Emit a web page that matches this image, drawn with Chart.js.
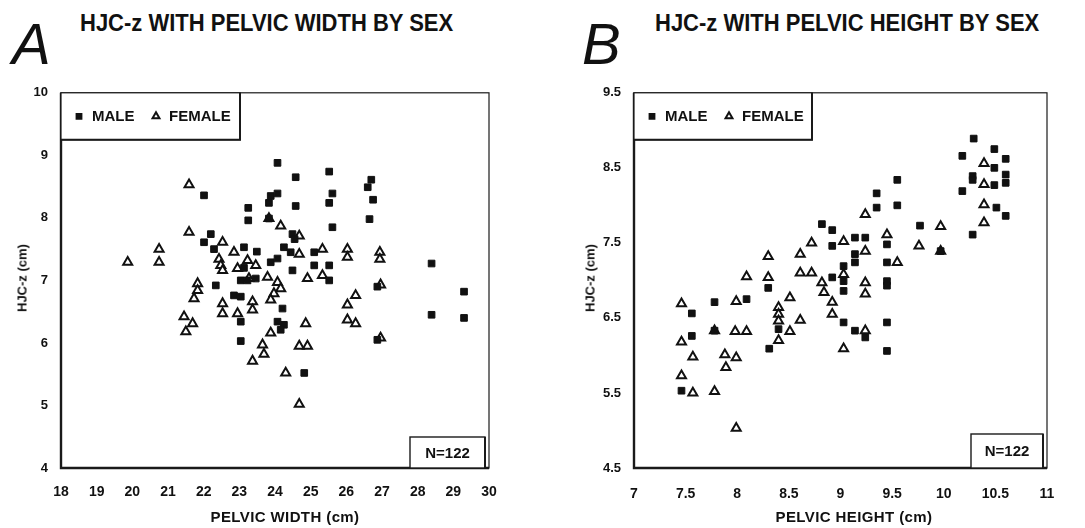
<!DOCTYPE html>
<html>
<head>
<meta charset="utf-8">
<script src="https://cdn.jsdelivr.net/npm/chart.js@4/dist/chart.umd.min.js"></script>
<style>
  body { margin: 0; background: #fff; width: 1085px; height: 528px; position: relative; overflow: hidden;
         font-family: "Liberation Sans", Arial, sans-serif; color: #111; }
  .letter { position: absolute; top: 15px; font-style: italic; font-size: 58px; line-height: 58px; }
  .title { position: absolute; top: 11px; font-weight: bold; font-size: 22px; line-height: 22px; white-space: nowrap;
           transform: scaleY(1.12); transform-origin: left top; }
  .xtitle { position: absolute; top: 508px; font-weight: bold; font-size: 15px; letter-spacing: 0.4px;
            transform: translateX(-50%); white-space: nowrap; }
  .ytitle { position: absolute; font-weight: bold; font-size: 13px; white-space: nowrap;
            transform: translate(-50%, -50%) rotate(-90deg); }
  .panel { position: absolute; top: 80px; height: 448px; }
</style>
</head>
<body>
<div class="letter" style="left:12px">A</div>
<div class="title" style="left:80px">HJC-z WITH PELVIC WIDTH BY SEX</div>
<div class="letter" style="left:582px">B</div>
<div class="title" style="left:655px">HJC-z WITH PELVIC HEIGHT BY SEX</div>

<div class="panel" style="left:0;width:540px"><canvas id="chartA" width="540" height="448"></canvas></div>
<div class="panel" style="left:560px;width:525px"><canvas id="chartB" width="525" height="448"></canvas></div>

<div class="xtitle" style="left:285px">PELVIC WIDTH (cm)</div>
<div class="xtitle" style="left:854px">PELVIC HEIGHT (cm)</div>
<div class="ytitle" style="left:22px;top:278px">HJC-z (cm)</div>
<div class="ytitle" style="left:590px;top:278px">HJC-z (cm)</div>

<script>
// --- data ---
const xTicksA = [18, 19, 20, 21, 22, 23, 24, 25, 26, 27, 28, 29, 30];
const yTicksA = [4, 5, 6, 7, 8, 9, 10];
const xTicksB = [7, 7.5, 8, 8.5, 9, 9.5, 10, 10.5, 11];
const yTicksB = [4.5, 5.5, 6.5, 7.5, 8.5, 9.5];
const seriesNames = ['MALE', 'FEMALE'];
const sampleSize = 'N=122';

// A: pelvic width vs HJC-z
const maleWidth = [24.07, 24.58, 25.52, 22.01, 23.88, 24.07, 23.83, 24.58, 25.52, 25.61, 23.25, 23.25, 23.83, 25.61,
  26.7, 26.6, 26.75, 26.65, 24.49, 24.55, 22.2, 22.01, 22.29, 23.13, 23.49, 24.25, 24.44, 25.1, 23.88, 24.07,
  24.49, 25.1, 25.52, 23.04, 23.23, 23.46, 25.52, 22.34, 22.85, 23.04, 24.21, 23.04, 24.07, 24.25, 24.16, 23.04,
  24.82, 28.39, 26.87, 29.3, 28.39, 29.3, 26.87, 23.13];
const maleHjcA = [8.88, 8.65, 8.74, 8.36, 8.35, 8.39, 8.24, 8.19, 8.24, 8.39, 8.16, 7.96, 7.99, 7.85,
  8.61, 8.49, 8.29, 7.98, 7.74, 7.66, 7.74, 7.61, 7.5, 7.53, 7.46, 7.53, 7.45, 7.45, 7.29, 7.35,
  7.16, 7.24, 7.24, 7.0, 7.0, 7.03, 7.0, 6.92, 6.76, 6.74, 6.55, 6.34, 6.34, 6.29, 6.21, 6.03,
  5.52, 7.27, 6.9, 6.82, 6.45, 6.4, 6.05, 7.2];
const femaleWidth = [19.87, 20.75, 20.75, 21.59, 21.59, 22.53, 22.85, 22.43, 22.48, 22.53, 23.23, 23.46, 22.95,
  23.79, 23.27, 24.16, 24.68, 24.68, 25.33, 26.03, 26.03, 26.94, 26.94, 24.07, 24.16, 23.97, 23.88, 24.91,
  25.33, 21.83, 21.83, 21.73, 22.53, 22.53, 23.37, 23.37, 22.95, 21.45, 21.69, 21.5, 26.26, 26.03, 26.03,
  26.26, 24.86, 23.88, 23.65, 23.69, 23.37, 24.68, 24.91, 24.3, 24.68, 26.96, 26.96, 23.83];
const femaleHjcA = [7.29, 7.5, 7.29, 8.53, 7.77, 7.61, 7.45, 7.34, 7.24, 7.16, 7.32, 7.24, 7.19,
  7.05, 7.03, 7.87, 7.71, 7.42, 7.5, 7.5, 7.37, 7.45, 7.34, 6.97, 6.87, 6.79, 6.69, 7.03,
  7.08, 6.95, 6.84, 6.71, 6.63, 6.47, 6.66, 6.53, 6.47, 6.42, 6.31, 6.18, 6.76, 6.61, 6.37,
  6.31, 6.31, 6.16, 5.97, 5.82, 5.71, 5.95, 5.95, 5.52, 5.02, 6.08, 6.93, 7.99];

// B: pelvic height vs HJC-z
const maleHeight = [10.29, 10.18, 10.49, 10.6, 10.49, 10.28, 10.28, 10.6, 10.6, 10.49, 10.18, 10.51, 10.6, 10.28,
  9.55, 9.35, 9.35, 9.55, 8.82, 8.92, 8.92, 9.77, 9.14, 9.14, 9.14, 9.24, 9.45, 9.45, 9.97,
  8.3, 7.46, 7.56, 7.78, 8.09, 7.78, 7.56, 8.4, 8.31, 8.92, 9.03, 9.03, 9.45, 9.45, 9.03, 9.14, 9.24,
  9.45, 9.45, 9.03];
const maleHjcB = [8.89, 8.66, 8.75, 8.62, 8.5, 8.39, 8.34, 8.41, 8.3, 8.27, 8.19, 7.97, 7.86, 7.61,
  8.34, 8.16, 7.97, 8.0, 7.75, 7.67, 7.46, 7.73, 7.57, 7.35, 7.24, 7.57, 7.48, 7.24, 7.39,
  6.9, 5.53, 6.56, 6.71, 6.75, 6.33, 6.26, 6.35, 6.09, 7.04, 7.19, 6.99, 6.99, 6.93, 6.44, 6.33, 6.24,
  6.44, 6.06, 6.86];
const femaleHeight = [10.39, 10.39, 10.39, 10.39, 9.24, 9.97, 9.76, 9.45, 9.55, 8.72, 8.61, 8.61, 8.72, 9.03,
  9.24, 8.3, 8.09, 8.3, 7.46, 7.99, 7.78, 7.98, 8.09, 7.46, 7.57, 7.88, 7.99, 7.89, 7.46, 7.57, 7.78,
  7.99, 8.51, 8.4, 8.4, 8.4, 8.51, 8.61, 8.4, 8.82, 8.84, 9.03, 9.24, 9.24, 8.92, 8.92, 9.24, 9.03, 9.97];
const femaleHjcB = [8.56, 8.28, 8.01, 7.77, 7.88, 7.72, 7.46, 7.61, 7.24, 7.5, 7.35, 7.1, 7.1, 7.52,
  7.39, 7.32, 7.05, 7.04, 6.69, 6.72, 6.33, 6.32, 6.32, 6.18, 5.98, 6.01, 5.97, 5.84, 5.73, 5.5, 5.52,
  5.03, 6.77, 6.64, 6.55, 6.46, 6.32, 6.47, 6.2, 6.97, 6.84, 7.08, 6.97, 6.82, 6.71, 6.55, 6.33, 6.09, 7.39];

const FONT = '"Liberation Sans", Arial, sans-serif';

function pairs(xs, ys) {
    return xs.map((x, i) => ({ x: x, y: ys[i] }));
}

// frame, legend box and N box drawn over the plot area
const boxesPlugin = {
    id: 'boxes',
    afterDraw(chart, args, o) {
        const ctx = chart.ctx;
        const a = chart.chartArea;
        ctx.save();
        ctx.strokeStyle = '#1a1a1a';
        ctx.lineWidth = 1.2;
        ctx.strokeRect(a.left, a.top, a.width, a.height);
        ctx.lineWidth = 2.4;
        ctx.beginPath();
        ctx.moveTo(a.left, a.top);
        ctx.lineTo(a.left, a.bottom);
        ctx.lineTo(a.right, a.bottom);
        ctx.stroke();

        // legend
        const lw = o.legendW, lh = o.legendH;
        ctx.fillStyle = '#fff';
        ctx.fillRect(a.left, a.top, lw, lh);
        ctx.lineWidth = 1.2;
        ctx.strokeRect(a.left, a.top, lw, lh);
        ctx.lineWidth = 2;
        ctx.beginPath();
        ctx.moveTo(a.left + lw, a.top);
        ctx.lineTo(a.left + lw, a.top + lh);
        ctx.lineTo(a.left, a.top + lh);
        ctx.stroke();

        const cy = a.top + lh / 2;
        ctx.font = 'bold 15px ' + FONT;
        ctx.textBaseline = 'middle';
        ctx.textAlign = 'left';
        chart.data.datasets.forEach((ds, i) => {
            const mx = a.left + o.markerX[i];
            ctx.fillStyle = ds.backgroundColor;
            ctx.strokeStyle = ds.borderColor;
            Chart.helpers.drawPoint(ctx, {
                pointStyle: ds.pointStyle, radius: i === 0 ? 3.4 : 4, borderWidth: i === 0 ? 1 : 1.6, rotation: 0
            }, mx, cy);
            ctx.fillStyle = '#111';
            ctx.fillText(ds.label, a.left + o.textX[i], cy + 1);
        });

        // N box
        const bx = a.right - o.nInset - o.nW, by = a.bottom - o.nH;
        ctx.fillStyle = '#fff';
        ctx.fillRect(bx, by, o.nW, o.nH);
        ctx.strokeStyle = '#1a1a1a';
        ctx.lineWidth = 1.4;
        ctx.strokeRect(bx, by, o.nW, o.nH);
        ctx.lineWidth = 2;
        ctx.beginPath();
        ctx.moveTo(bx + o.nW, by);
        ctx.lineTo(bx + o.nW, a.bottom);
        ctx.stroke();
        ctx.fillStyle = '#111';
        ctx.textAlign = 'center';
        ctx.font = 'bold 15px ' + FONT;
        ctx.fillText(sampleSize, bx + o.nW / 2, by + o.nH / 2 + 1);
        ctx.restore();
    }
};

function makeChart(id, cfg) {
    const tickFont = { family: FONT, weight: 'bold', size: 14 };
    return new Chart(document.getElementById(id), {
        type: 'scatter',
        data: {
            datasets: [{
                label: seriesNames[0],
                data: pairs(cfg.maleX, cfg.maleY),
                pointStyle: 'rect',
                pointRadius: 4.7,
                backgroundColor: '#111',
                borderColor: '#111',
                borderWidth: 1
            }, {
                label: seriesNames[1],
                data: pairs(cfg.femaleX, cfg.femaleY),
                pointStyle: 'triangle',
                pointRadius: 5.2,
                backgroundColor: '#fff',
                borderColor: '#111',
                borderWidth: 2
            }]
        },
        options: {
            responsive: false,
            animation: false,
            layout: { padding: { top: 10, right: cfg.padRight, left: 0, bottom: 0 } },
            plugins: {
                legend: { display: false },
                tooltip: { enabled: false },
                boxes: {
                    legendW: cfg.legendW, legendH: 47,
                    markerX: [18, 95], textX: [31, 108],
                    nW: cfg.nW, nH: cfg.nH, nInset: 4
                }
            },
            scales: {
                x: {
                    type: 'linear',
                    min: cfg.xTicks[0],
                    max: cfg.xTicks[cfg.xTicks.length - 1],
                    afterBuildTicks: s => { s.ticks = cfg.xTicks.map(v => ({ value: v })); },
                    afterFit: s => { s.height = 60; },
                    grid: { display: false },
                    border: { display: false },
                    ticks: { color: '#111', font: tickFont, padding: cfg.xPad, maxRotation: 0, autoSkip: false,
                             callback: v => String(v) }
                },
                y: {
                    type: 'linear',
                    min: cfg.yTicks[0],
                    max: cfg.yTicks[cfg.yTicks.length - 1],
                    afterBuildTicks: s => { s.ticks = cfg.yTicks.map(v => ({ value: v })); },
                    afterFit: s => { s.width = cfg.yWidth; },
                    grid: { display: false },
                    border: { display: false },
                    ticks: { color: '#111', font: { family: FONT, weight: 'bold', size: 13 }, padding: 5,
                             autoSkip: false, callback: v => String(v) }
                }
            }
        },
        plugins: [boxesPlugin]
    });
}

makeChart('chartA', {
    maleX: maleWidth, maleY: maleHjcA, femaleX: femaleWidth, femaleY: femaleHjcA,
    xTicks: xTicksA, yTicks: yTicksA, yWidth: 61, padRight: 51, legendW: 179, nW: 75, nH: 31, xPad: 8
});
makeChart('chartB', {
    maleX: maleHeight, maleY: maleHjcB, femaleX: femaleHeight, femaleY: femaleHjcB,
    xTicks: xTicksB, yTicks: yTicksB, yWidth: 74, padRight: 38, legendW: 178, nW: 72, nH: 34, xPad: 10
});
</script>
</body>
</html>
